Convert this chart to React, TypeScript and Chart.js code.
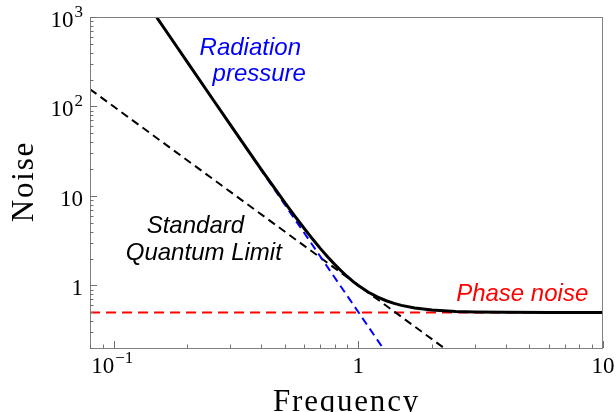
import { useEffect, useRef } from "react";
import { Chart, registerables } from "chart.js";

Chart.register(...registerables);

// ---- data ----
const totalFreq = [0.15, 0.18, 0.2, 0.25, 0.3, 0.35, 0.4, 0.45, 0.5, 0.55, 0.6, 0.65, 0.7, 0.75, 0.8, 0.85, 0.9, 0.95, 1.0, 1.1, 1.2, 1.3, 1.4, 1.5, 1.7, 2.0, 2.5, 3, 4, 6, 10];
const totalNoise = [988, 477, 313, 128.5, 62.2, 33.8, 20, 12.7, 8.5, 5.96, 4.36, 3.3, 2.58, 2.08, 1.72, 1.46, 1.26, 1.11, 1.0, 0.84, 0.741, 0.675, 0.63, 0.599, 0.56, 0.531, 0.513, 0.506, 0.502, 0.5, 0.5];
const sqlFreq = [0.08, 2.24];
const sqlNoise = [156, 0.2];
const radFreq = [0.15, 1.26];
const radNoise = [988, 0.2];
const phaseFreq = [0.08, 10];
const phaseNoise = [0.5, 0.5];

const xMajorTicks = [0.1, 1, 10];
const xTickLabels = ["10^\u22121", "1", "10"];
const yMajorTicks = [1, 10, 100, 1000];
const yTickLabels = ["1", "10", "10^2", "10^3"];

const annotations = [
  { text: "Radiation", x: 0.2244, y: 374, color: "#0000ff" },
  { text: "pressure", x: 0.2536, y: 191, color: "#0000ff" },
  { text: "Standard", x: 0.1364, y: 3.84, color: "#000000" },
  { text: "Quantum Limit", x: 0.112, y: 1.91, color: "#000000" },
  { text: "Phase noise", x: 2.51, y: 0.678, color: "#ff0000" },
];

const X_MIN = 0.08;
const X_MAX = 10;
const Y_MIN = 0.2;
const Y_MAX = 1000;

const pts = (xs: number[], ys: number[]) => xs.map((x, i) => ({ x, y: ys[i] }));

function minorTicks(min: number, max: number): number[] {
  const out: number[] = [];
  for (let e = Math.floor(Math.log10(min)); e <= Math.ceil(Math.log10(max)); e++) {
    for (let m = 2; m <= 9; m++) {
      const v = m * Math.pow(10, e);
      if (v >= min * 0.999 && v <= max * 1.001) out.push(v);
    }
  }
  return out;
}

const SERIF = '"Liberation Serif", "Times New Roman", serif';

function drawSupLabel(ctx: CanvasRenderingContext2D, label: string, x: number, baseline: number, align: "center" | "right") {
  const [base, exp] = label.split("^");
  ctx.font = `23px ${SERIF}`;
  const bw = ctx.measureText(base).width;
  let ew = 0;
  if (exp) {
    ctx.font = `17px ${SERIF}`;
    ew = ctx.measureText(exp).width + (exp.length > 1 ? 4 : 1);
  }
  const total = bw + ew;
  const left = align === "center" ? x - total / 2 : x - total;
  ctx.textAlign = "left";
  ctx.textBaseline = "alphabetic";
  ctx.font = `23px ${SERIF}`;
  ctx.fillText(base, left, baseline);
  if (exp) {
    ctx.font = `17px ${SERIF}`;
    ctx.fillText(exp, left + bw + 1, baseline - 10);
  }
}

const axesPlugin = {
  id: "customAxes",
  afterDatasetsDraw(chart: any) {
    const { ctx, chartArea: a, scales } = chart;
    const xs = scales.x;
    const ys = scales.y;
    ctx.save();
    // frame
    ctx.strokeStyle = "#808080";
    ctx.lineWidth = 1;
    ctx.strokeRect(a.left + 0.5, a.top + 0.5, a.right - a.left - 1, a.bottom - a.top);
    // ticks
    ctx.strokeStyle = "#707070";
    const tick = (x1: number, y1: number, x2: number, y2: number) => {
      ctx.beginPath();
      ctx.moveTo(x1, y1);
      ctx.lineTo(x2, y2);
      ctx.stroke();
    };
    xMajorTicks.forEach((v) => {
      const px = Math.round(xs.getPixelForValue(v)) + 0.5;
      tick(px, a.bottom, px, a.bottom - 7);
    });
    minorTicks(X_MIN, X_MAX).forEach((v) => {
      const px = Math.round(xs.getPixelForValue(v)) + 0.5;
      tick(px, a.bottom, px, a.bottom - 3.5);
    });
    yMajorTicks.forEach((v) => {
      const py = Math.round(ys.getPixelForValue(v)) + 0.5;
      tick(a.left, py, a.left + 7, py);
    });
    minorTicks(Y_MIN, Y_MAX).forEach((v) => {
      const py = Math.round(ys.getPixelForValue(v)) + 0.5;
      tick(a.left, py, a.left + 3.5, py);
    });
    // tick labels
    ctx.fillStyle = "#000";
    xMajorTicks.forEach((v, i) => {
      drawSupLabel(ctx, xTickLabels[i], xs.getPixelForValue(v), a.bottom + 25, "center");
    });
    yMajorTicks.forEach((v, i) => {
      drawSupLabel(ctx, yTickLabels[i], a.left - 7, ys.getPixelForValue(v) + 10, "right");
    });
    // axis titles
    ctx.font = `31px ${SERIF}`;
    (ctx as any).letterSpacing = "1.8px";
    ctx.textAlign = "center";
    ctx.textBaseline = "alphabetic";
    ctx.fillText("Frequency", (a.left + a.right) / 2, 411);
    ctx.save();
    ctx.translate(33, (a.top + a.bottom) / 2 - 1);
    ctx.rotate(-Math.PI / 2);
    ctx.fillText("Noise", 0, 0);
    ctx.restore();
    (ctx as any).letterSpacing = "0px";
    // annotations
    ctx.font = `italic 24px "Liberation Sans", Arial, sans-serif`;
    ctx.textAlign = "left";
    annotations.forEach((t) => {
      ctx.fillStyle = t.color;
      ctx.fillText(t.text, xs.getPixelForValue(t.x), ys.getPixelForValue(t.y));
    });
    ctx.restore();
  },
};

export default function App() {
  const ref = useRef<HTMLCanvasElement | null>(null);
  useEffect(() => {
    if (!ref.current) return;
    const chart = new Chart(ref.current, {
      type: "line",
      data: {
        datasets: [
          {
            label: "Total",
            data: pts(totalFreq, totalNoise),
            borderColor: "#000000",
            borderWidth: 3,
            pointRadius: 0,
            tension: 0,
          },
          {
            label: "Radiation pressure",
            data: pts(radFreq, radNoise),
            borderColor: "#0000ff",
            borderWidth: 2,
            borderDash: [8, 5],
            pointRadius: 0,
          },
          {
            label: "Standard Quantum Limit",
            data: pts(sqlFreq, sqlNoise),
            borderColor: "#000000",
            borderWidth: 2,
            borderDash: [8, 5],
            pointRadius: 0,
          },
          {
            label: "Phase noise",
            data: pts(phaseFreq, phaseNoise),
            borderColor: "#ff0000",
            borderWidth: 2,
            borderDash: [10, 6],
            pointRadius: 0,
          },
        ],
      },
      options: {
        animation: false,
        responsive: false,
        devicePixelRatio: 1,
        layout: { padding: { left: 90, right: 13, top: 17, bottom: 64 } },
        scales: {
          x: { type: "logarithmic", min: X_MIN, max: X_MAX, display: false },
          y: { type: "logarithmic", min: Y_MIN, max: Y_MAX, display: false },
        },
        plugins: {
          legend: { display: false },
          tooltip: { enabled: false },
        },
      },
      plugins: [axesPlugin],
    });
    return () => chart.destroy();
  }, []);
  return (
    <div style={{ position: "fixed", left: 0, top: 0, width: 616, height: 412, background: "#fff" }}>
      <canvas ref={ref} width={616} height={412} style={{ width: 616, height: 412, display: "block" }} />
    </div>
  );
}
